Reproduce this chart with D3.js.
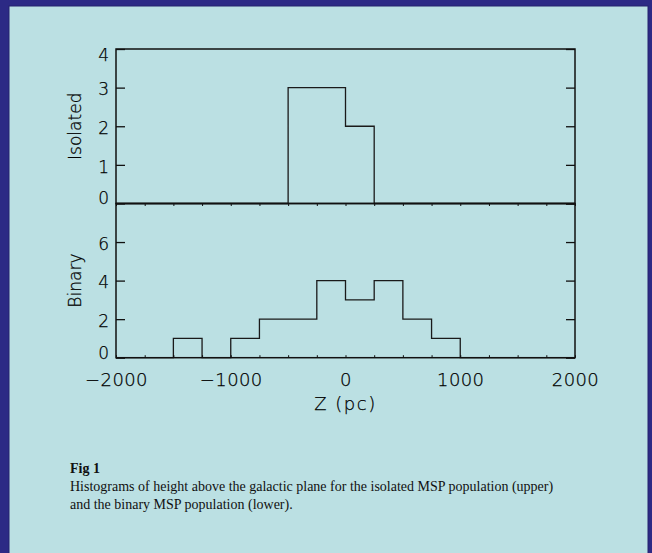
<!DOCTYPE html>
<html>
<head>
<meta charset="utf-8">
<script src="https://cdn.jsdelivr.net/npm/d3@7"></script>
<style>
  body { margin: 0; background: #2c2a85; }
  svg { display: block; }
  .axis text, .label { font-family: "DejaVu Sans", sans-serif; font-size: 17px; fill: #000; font-weight: 200; stroke: #000; stroke-width: 0.25px; }
  .axis path, .axis line { stroke: #111; }
  .caption { font-family: "Liberation Serif", "Times New Roman", serif; font-size: 14px; fill: #111; }
</style>
</head>
<body>
<svg id="chart" width="652" height="553"></svg>
<script>
// bin left edges (pc), width 250
const binStart = [-2000, -1750, -1500, -1250, -1000, -750, -500, -250, 0, 250, 500, 750, 1000, 1250, 1500, 1750];
const binWidth = 250;
const isolatedCounts = [0, 0, 0, 0, 0, 0, 3, 3, 2, 0, 0, 0, 0, 0, 0, 0];
const binaryCounts = [0, 0, 1, 0, 1, 2, 2, 4, 3, 4, 2, 1, 0, 0, 0, 0];

const xTicks = [-2000, -1000, 0, 1000, 2000];
const xMinorTicks = [-2000, -1750, -1500, -1250, -1000, -750, -500, -250, 0, 250, 500, 750, 1000, 1250, 1500, 1750, 2000];
const isolatedTicks = [0, 1, 2, 3, 4];
const binaryTicks = [0, 2, 4, 6];
const binaryTicksRight = [0, 2, 4, 6, 8];

const svg = d3.select("#chart");

svg.append("rect")
  .attr("x", 9).attr("y", 6)
  .attr("width", 639).attr("height", 560)
  .attr("fill", "#bbe0e3")
  .attr("stroke", "#24236e")
  .attr("stroke-width", 1);

const marginLeft = 116, marginRight = 575;
const topY = 49, midY = 203.5, botY = 357.7;

const x = d3.scaleLinear().domain([-2000, 2000]).range([marginLeft, marginRight]);
const yTop = d3.scaleLinear().domain([0, 4]).range([midY, topY]);
const yBot = d3.scaleLinear().domain([0, 8]).range([botY, midY]);

function stepLine(counts, y) {
  const pts = binStart.map((b, i) => [b, counts[i]]);
  pts.push([binStart[binStart.length - 1] + binWidth, counts[counts.length - 1]]);
  return d3.line()
    .x((d) => x(d[0]))
    .y((d) => y(d[1]))
    .curve(d3.curveStepAfter)(pts);
}

function panel(y, counts, ticks, ticksRight, label, y0, y1, bottomTicksUp) {
  // histogram
  svg.append("path")
    .attr("d", stepLine(counts, y))
    .attr("fill", "none")
    .attr("stroke", "#1a1a1a")
    .attr("stroke-width", 1.3);

  // frame
  svg.append("rect")
    .attr("x", marginLeft).attr("y", y1)
    .attr("width", marginRight - marginLeft).attr("height", y0 - y1)
    .attr("fill", "none")
    .attr("stroke", "#111")
    .attr("stroke-width", 1.5);

  // left axis; labels nudged off the frame corners like the original
  const yMax = y.domain()[1];
  const gl = svg.append("g").attr("class", "axis")
    .attr("transform", `translate(${marginLeft},0)`)
    .call(d3.axisLeft(y).tickValues(ticks).tickSize(-9).tickPadding(7).tickFormat(d3.format("d")));
  gl.select(".domain").remove();
  gl.selectAll("line").attr("stroke-width", 1.3);
  gl.selectAll("text")
    .attr("dy", (d) => d === 0 ? "0.02em" : d === yMax ? "0.68em" : "0.42em");

  // right axis
  const gr = svg.append("g").attr("class", "axis")
    .attr("transform", `translate(${marginRight},0)`)
    .call(d3.axisRight(y).tickValues(ticksRight).tickSize(-9).tickFormat(""));
  gr.select(".domain").remove();
  gr.selectAll("line").attr("stroke-width", 1.3);

  // minor x ticks on the bottom edge
  const gb = svg.append("g").attr("class", "axis")
    .attr("transform", `translate(0,${y0})`)
    .call((bottomTicksUp ? d3.axisTop(x) : d3.axisBottom(x)).tickValues(xMinorTicks).tickSize(2.5).tickFormat(""));
  gb.select(".domain").remove();

  svg.append("text")
    .attr("class", "label")
    .attr("transform", `translate(81,${(y0 + y1) / 2}) rotate(-90)`)
    .attr("text-anchor", "middle")
    .text(label);
}

panel(yTop, isolatedCounts, isolatedTicks, isolatedTicks, "Isolated", midY, topY, false);
panel(yBot, binaryCounts, binaryTicks, binaryTicksRight, "Binary", botY, midY, true);

// x tick labels
const gx = svg.append("g").attr("class", "axis")
  .attr("transform", `translate(0,${botY})`)
  .call(d3.axisBottom(x).tickValues(xTicks).tickSize(0).tickPadding(16)
    .tickFormat((d) => (d < 0 ? "\u2212" : "") + Math.abs(d)));
gx.select(".domain").remove();
gx.selectAll("text").style("font-size", "18px").style("letter-spacing", "0.4px");

svg.append("text")
  .attr("class", "label")
  .attr("x", x(0)).attr("y", 410)
  .attr("text-anchor", "middle")
  .style("font-size", "18px")
  .style("letter-spacing", "1.5px")
  .text("Z (pc)");

// caption
svg.append("text").attr("class", "caption")
  .attr("x", 70).attr("y", 473)
  .style("font-weight", "bold")
  .text("Fig 1");
svg.append("text").attr("class", "caption")
  .attr("x", 70).attr("y", 491)
  .text("Histograms of height above the galactic plane for the isolated MSP population (upper)");
svg.append("text").attr("class", "caption")
  .attr("x", 70).attr("y", 508.5)
  .text("and the binary MSP population (lower).");
</script>
</body>
</html>
